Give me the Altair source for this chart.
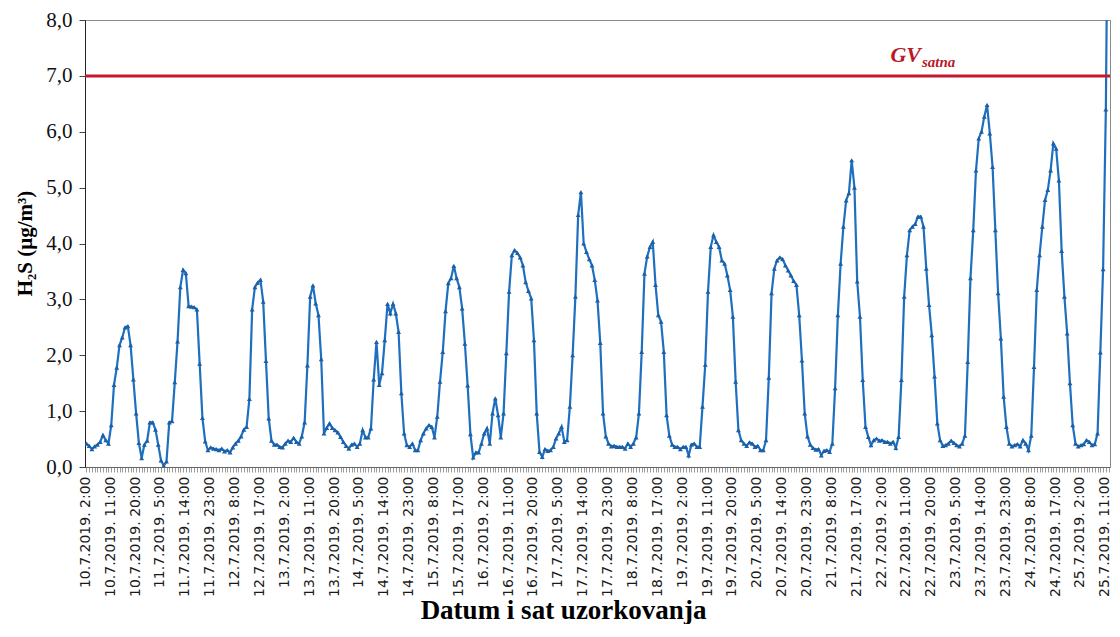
import json
import altair as alt
import pandas as pd

# Hourly H2S concentrations (µg/m3), one list per day (July 2019)
d10 = [0.42, 0.38, 0.32, 0.37, 0.40, 0.45, 0.57, 0.48, 0.42, 0.75, 1.47, 1.78, 2.18, 2.32, 2.50, 2.52, 2.18, 1.57, 0.96, 0.43, 0.16, 0.40]
d11 = [0.47, 0.80, 0.80, 0.67, 0.40, 0.12, 0.02, 0.10, 0.80, 0.82, 1.52, 2.25, 3.22, 3.53, 3.47, 2.88, 2.87, 2.86, 2.82, 1.85, 0.88, 0.46, 0.30, 0.35]
d12 = [0.33, 0.32, 0.30, 0.33, 0.28, 0.30, 0.26, 0.35, 0.42, 0.47, 0.55, 0.67, 0.72, 1.22, 2.82, 3.22, 3.30, 3.35, 2.96, 1.90, 0.87, 0.47, 0.40, 0.40]
d13 = [0.36, 0.35, 0.42, 0.47, 0.45, 0.52, 0.45, 0.42, 0.55, 0.80, 1.82, 3.05, 3.25, 2.93, 2.72, 1.93, 0.60, 0.70, 0.78, 0.70, 0.66, 0.62, 0.54, 0.45]
d14 = [0.38, 0.33, 0.40, 0.42, 0.36, 0.42, 0.66, 0.53, 0.53, 0.69, 1.57, 2.24, 1.47, 1.68, 2.27, 2.92, 2.75, 2.92, 2.75, 2.42, 1.32, 0.60, 0.39, 0.36]
d15 = [0.42, 0.30, 0.30, 0.48, 0.60, 0.69, 0.75, 0.72, 0.53, 0.90, 1.53, 2.06, 2.79, 3.29, 3.38, 3.60, 3.38, 3.22, 2.84, 2.21, 1.46, 0.59, 0.17, 0.26]
d16 = [0.26, 0.42, 0.60, 0.69, 0.42, 0.96, 1.23, 0.93, 0.53, 0.96, 2.04, 3.14, 3.79, 3.88, 3.83, 3.75, 3.61, 3.31, 3.15, 3.02, 2.27, 0.96, 0.27, 0.18]
d17 = [0.32, 0.29, 0.30, 0.36, 0.51, 0.60, 0.72, 0.45, 0.48, 1.08, 2.00, 3.05, 4.51, 4.92, 4.00, 3.85, 3.72, 3.61, 3.35, 2.98, 2.22, 0.96, 0.55, 0.42]
d18 = [0.37, 0.38, 0.36, 0.36, 0.36, 0.33, 0.42, 0.36, 0.42, 0.53, 0.96, 2.06, 3.46, 3.77, 3.94, 4.03, 3.26, 2.72, 2.60, 2.06, 0.93, 0.56, 0.40, 0.36]
d19 = [0.36, 0.32, 0.36, 0.36, 0.21, 0.40, 0.42, 0.36, 0.36, 1.08, 1.83, 3.14, 3.94, 4.15, 4.03, 3.94, 3.70, 3.64, 3.43, 3.17, 2.69, 1.53, 0.66, 0.48]
d20 = [0.42, 0.38, 0.44, 0.42, 0.36, 0.38, 0.30, 0.30, 0.48, 1.60, 3.11, 3.55, 3.70, 3.75, 3.72, 3.61, 3.52, 3.43, 3.33, 3.26, 2.72, 1.91, 0.96, 0.55]
d21 = [0.40, 0.34, 0.31, 0.32, 0.21, 0.29, 0.30, 0.27, 0.42, 1.41, 2.72, 3.64, 4.30, 4.77, 4.90, 5.49, 5.00, 3.32, 2.69, 1.56, 0.72, 0.54, 0.39, 0.48]
d22 = [0.51, 0.47, 0.48, 0.45, 0.45, 0.42, 0.45, 0.34, 0.54, 1.56, 3.05, 3.79, 4.24, 4.30, 4.35, 4.48, 4.48, 4.30, 3.55, 2.90, 2.36, 1.62, 0.78, 0.48]
d23 = [0.38, 0.39, 0.42, 0.47, 0.43, 0.39, 0.37, 0.42, 0.56, 1.88, 3.38, 4.24, 5.31, 5.88, 6.00, 6.27, 6.48, 5.97, 5.37, 4.24, 3.11, 2.30, 1.26, 0.72]
d24 = [0.42, 0.37, 0.39, 0.41, 0.37, 0.48, 0.42, 0.30, 0.56, 1.79, 3.17, 3.79, 4.30, 4.78, 4.96, 5.31, 5.79, 5.70, 5.13, 3.87, 3.05, 2.39, 1.50, 0.75]
d25 = [0.42, 0.37, 0.39, 0.41, 0.48, 0.45, 0.39, 0.41, 0.60, 2.05, 3.54, 6.40, 12.0]

days = [10, 11, 12, 13, 14, 15, 16, 17, 18, 19, 20, 21, 22, 23, 24, 25]
series = [d10, d11, d12, d13, d14, d15, d16, d17, d18, d19, d20, d21, d22, d23, d24, d25]
first_hour = 2  # first measurement on 10.7.2019 at 2:00

gv_limit = 7.0
gv_text = "GV"
gv_sub = "satna"
y_ticks = [0, 0.5, 1, 1.5, 2, 2.5, 3, 3.5, 4, 4.5, 5, 5.5, 6, 6.5, 7, 7.5, 8]
x_title = "Datum  i  sat uzorkovanja"
y_title = "H\u2082S (\u03bcg/m\u00b3)"

cats, vals = [], []
for day, vs in zip(days, series):
    h0 = first_hour if day == days[0] else 0
    for k, v in enumerate(vs):
        cats.append(f"{day}.7.2019. {h0 + k}:00")
        vals.append(v)
tick_labels = cats[::9]

BLUE = "#1E6FBF"
MARK = "#1B5FA6"
RED = "#C8172C"
TEXT_RED = "#B81A28"

df = pd.DataFrame({"t": cats, "v": vals})
gv_df = pd.DataFrame({"gv": [gv_limit], "a": [gv_text], "b": [gv_sub]})

x_enc = alt.X(
    "t:O",
    sort=cats,
    scale=alt.Scale(domain=cats, padding=0.5),
    title=x_title,
    axis=alt.Axis(
        values=cats,
        labelExpr="indexof(" + json.dumps(tick_labels) + ", datum.value) >= 0 ? datum.value : ''",
        labelAngle=-90,
        labelOverlap=False,
        labelFont="DejaVu Sans",
        labelFontSize=14,
        labelColor="#1a1a1a",
        labelPadding=4,
        labelOffset=-1,
        tickSize=5,
        tickColor="#9a9a9a",
        tickWidth=1,
        domainColor="#666666",
        titleFont="Liberation Serif",
        titleFontSize=27,
        titleFontWeight="bold",
        titleColor="#000000",
        titleX=478,
        titleY=151,
        titleBaseline="alphabetic",
        titleAlign="center",
    ),
)

y_scale = alt.Scale(domain=[0, 8], nice=False, zero=True)
y_enc = alt.Y(
    "v:Q",
    scale=y_scale,
    title=y_title,
    axis=alt.Axis(
        values=y_ticks,
        labelExpr="datum.value % 1 == 0 ? replace(format(datum.value, '.1f'), '.', ',') : ''",
        labelFont="Liberation Serif",
        labelFontSize=21,
        labelColor="#111111",
        labelPadding=7,
        tickSize=6,
        tickColor="#444444",
        domainColor="#222222",
        grid=False,
        titleFont="Liberation Serif",
        titleFontSize=21,
        titleFontWeight="bold",
        titleColor="#000000",
        titleAngle=270,
        titleX=-60,
        titleY=223,
        titleAlign="center",
        titleBaseline="middle",
    ),
)

line = alt.Chart(df).mark_line(
    color=BLUE,
    strokeWidth=2.2,
    clip=True,
    point=alt.OverlayMarkDef(shape="triangle-up", size=24, filled=True, color=MARK, clip=True),
).encode(x=x_enc, y=y_enc)

rule = alt.Chart(gv_df).mark_rule(color=RED, strokeWidth=3).encode(y=alt.Y("gv:Q", scale=y_scale))

gv_main = alt.Chart(gv_df).mark_text(
    font="Liberation Serif", fontSize=22, fontWeight="bold", fontStyle="italic",
    color=TEXT_RED, align="right", baseline="alphabetic", dy=-14,
).encode(y=alt.Y("gv:Q", scale=y_scale), x=alt.value(836), text="a:N")

gv_subtext = alt.Chart(gv_df).mark_text(
    font="Liberation Serif", fontSize=15, fontWeight="bold", fontStyle="italic",
    color=TEXT_RED, align="left", baseline="alphabetic", dy=-9,
).encode(y=alt.Y("gv:Q", scale=y_scale), x=alt.value(837), text="b:N")

chart = alt.layer(line, rule, gv_main, gv_subtext).properties(
    width=1025,
    height=447,
    autosize=alt.AutoSizeParams(type="none"),
    padding={"left": 77, "top": 12, "right": 2, "bottom": 157},
    background="white",
).configure_view(stroke="#8a8a8a", strokeWidth=1)

chart.save("out.html", embed_options={"renderer": "svg", "actions": False})
